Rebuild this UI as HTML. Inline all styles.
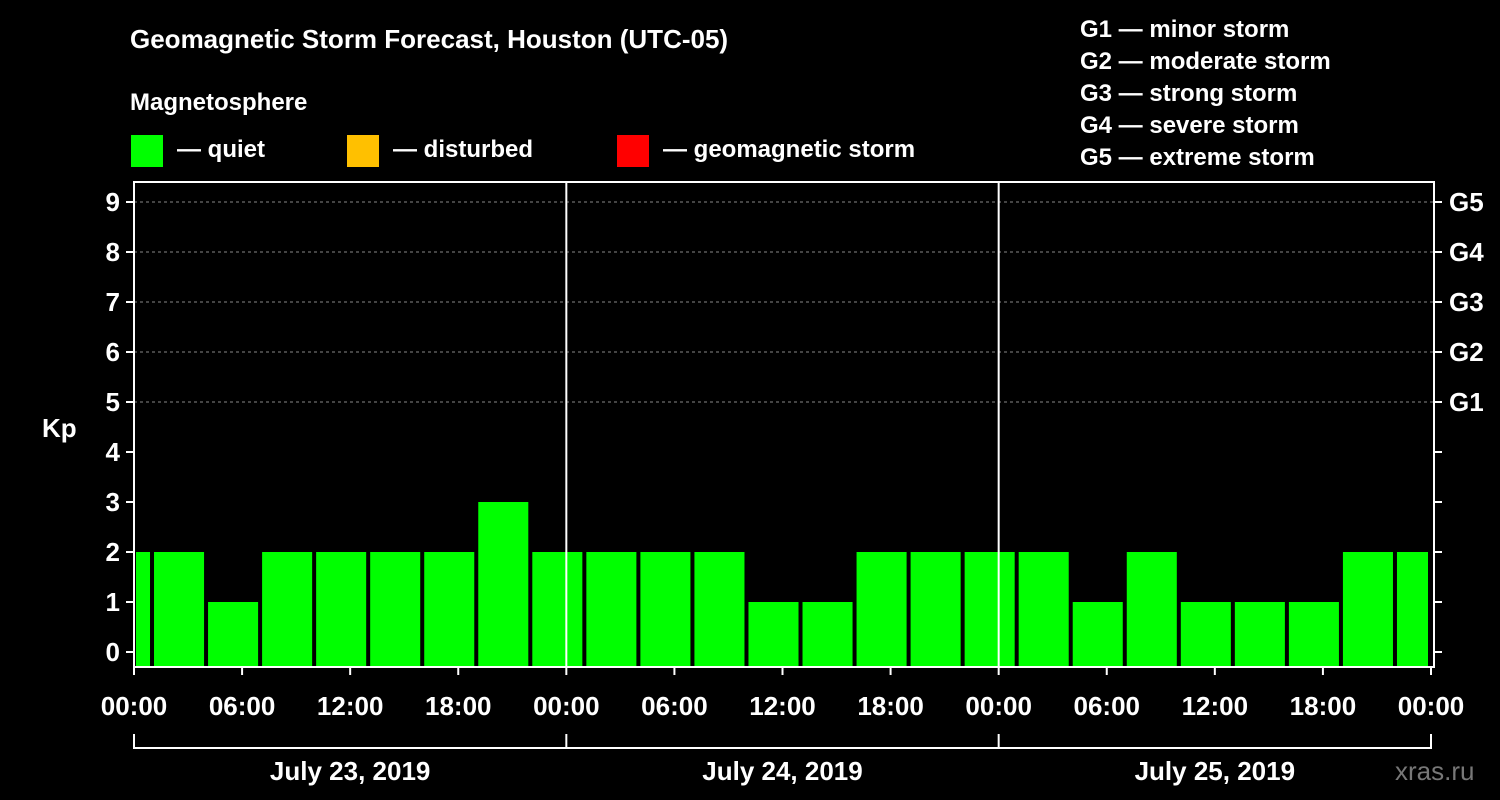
<!DOCTYPE html>
<html><head><meta charset="utf-8">
<style>
html,body{margin:0;padding:0;background:#000;}
svg{display:block;font-family:"Liberation Sans",Arial,sans-serif;font-weight:bold;}
</style></head>
<body>
<svg id="chart" width="1500" height="800" viewBox="0 0 1500 800">
<rect x="0" y="0" width="1500" height="800" fill="#000"/>
<text x="130" y="48" fill="#fff" font-size="26">Geomagnetic Storm Forecast, Houston (UTC-05)</text>
<text x="130" y="110" fill="#fff" font-size="24">Magnetosphere</text>
<g>
<rect x="131" y="135" width="32" height="32" fill="#00ff00"/><text x="177" y="157" fill="#fff" font-size="24">— quiet</text></g>
<g>
<rect x="347" y="135" width="32" height="32" fill="#ffc000"/><text x="393" y="157" fill="#fff" font-size="24">— disturbed</text></g>
<g>
<rect x="617" y="135" width="32" height="32" fill="#ff0000"/><text x="663" y="157" fill="#fff" font-size="24">— geomagnetic storm</text></g>
<g fill="#fff" font-size="24">
<text x="1080" y="37">G1 — minor storm</text>
<text x="1080" y="69">G2 — moderate storm</text>
<text x="1080" y="101">G3 — strong storm</text>
<text x="1080" y="133">G4 — severe storm</text>
<text x="1080" y="165">G5 — extreme storm</text>
</g>
<g id="grid"></g>
<g id="bars"></g>
<g id="axes"></g>
<text x="42" y="437" fill="#fff" font-size="26">Kp</text>
<text x="1395" y="780" fill="#777" font-size="26" font-weight="normal">xras.ru</text>
</svg>
<script>
const kpValues = [2,2,1,2,2,2,2,3,2, 2,2,2,1,1,2,2,2, 2,1,2,1,1,1,2,2];
const yTicks = [0,1,2,3,4,5,6,7,8,9];
const gLabels = ["G1","G2","G3","G4","G5"];
const xTickLabels = ["00:00","06:00","12:00","18:00","00:00","06:00","12:00","18:00","00:00","06:00","12:00","18:00","00:00"];
const dayLabels = ["July 23, 2019","July 24, 2019","July 25, 2019"];

const NS="http://www.w3.org/2000/svg";
const L=134,R=1434,T=182,B=667,X0=134,X1=1431;
const y=v=>652-v*50;
const x=h=>X0+(X1-X0)*h/72;
function mk(tag,attrs,parent){const e=document.createElementNS(NS,tag);for(const k in attrs)e.setAttribute(k,attrs[k]);parent.appendChild(e);return e;}
const grid=document.getElementById('grid'),bars=document.getElementById('bars'),axes=document.getElementById('axes');

for(let v=5;v<=9;v++){
 const g=mk('line',{x1:L,x2:R,y1:y(v),y2:y(v),stroke:'#888','stroke-dasharray':'3,3','stroke-width':1},grid);
 
 
}
kpValues.forEach((v,i)=>{
 const h0=-2+i*3;
 let a=x(h0)+2,b=x(h0+3)-2;
 a=Math.max(a,L+2);b=Math.min(b,X1-3);
 const r=mk('rect',{x:a,y:y(v),width:b-a,height:B-y(v),fill:'#00ff00'},bars);
 
 
});
// frame
const fr=mk('rect',{x:L,y:T,width:R-L,height:B-T,fill:'none',stroke:'#fff','stroke-width':2},axes);


[24,48].forEach(h=>{
 const d=mk('line',{x1:x(h),x2:x(h),y1:T,y2:B,stroke:'#fff','stroke-width':2},axes);
 
 
});
yTicks.forEach(v=>{
 const t=mk('line',{x1:L-8,x2:L,y1:y(v),y2:y(v),stroke:'#fff','stroke-width':2},axes);
 
 
 const t2=mk('line',{x1:R,x2:R+8,y1:y(v),y2:y(v),stroke:'#fff','stroke-width':2},axes);
 
 
 const lb=mk('text',{x:L-14,y:y(v)+9,fill:'#fff','font-size':26,'text-anchor':'end'},axes);
 lb.textContent=v;
 
 
});
gLabels.forEach((g,i)=>{
 const lb=mk('text',{x:R+15,y:y(5+i)+9,fill:'#fff','font-size':26},axes);
 lb.textContent=g;
 
 
});
xTickLabels.forEach((s,i)=>{
 const xx=x(i*6);
 const t=mk('line',{x1:xx,x2:xx,y1:B,y2:B+8,stroke:'#fff','stroke-width':2},axes);
 
 
 const lb=mk('text',{x:xx,y:715,fill:'#fff','font-size':26,'text-anchor':'middle'},axes);
 lb.textContent=s;
 
 
});
const br=mk('line',{x1:X0,x2:X1,y1:748,y2:748,stroke:'#fff','stroke-width':2},axes);


[0,24,48,72].forEach(h=>{
 const t=mk('line',{x1:x(h),x2:x(h),y1:734,y2:749,stroke:'#fff','stroke-width':2},axes);
 
 
});
dayLabels.forEach((d,i)=>{
 const lb=mk('text',{x:x(i*24+12),y:780,fill:'#fff','font-size':26,'text-anchor':'middle'},axes);
 lb.textContent=d;
 
 
});
</script>
</body></html>
